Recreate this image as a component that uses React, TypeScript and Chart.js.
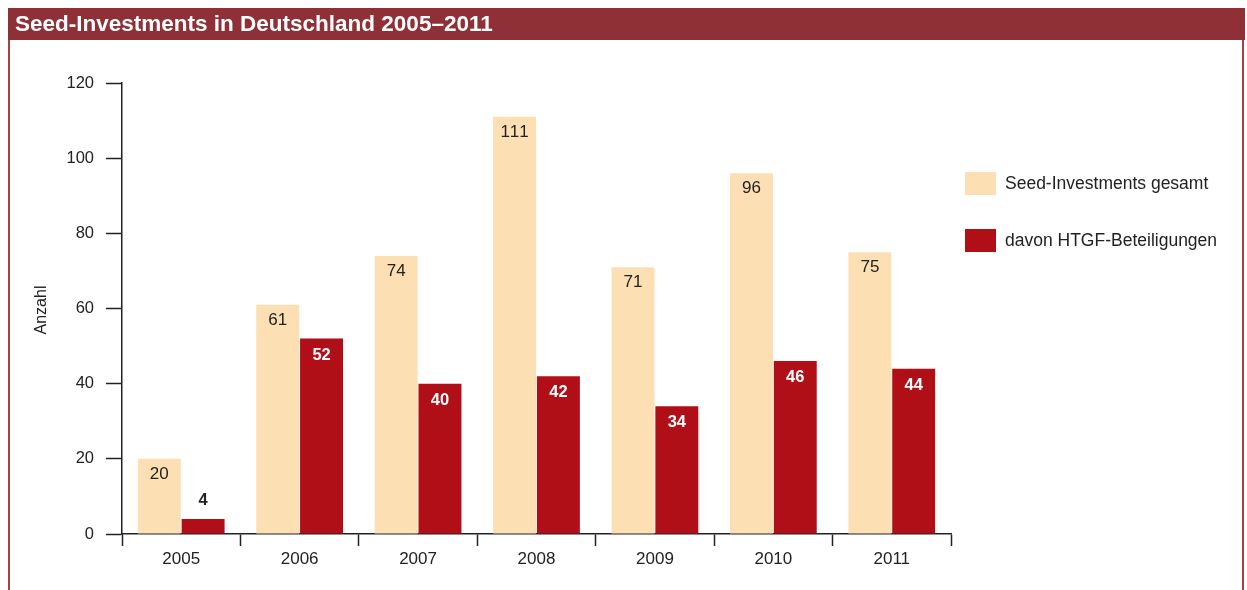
import React, { useEffect, useRef } from "react";
import { Chart, registerables } from "chart.js";

Chart.register(...registerables);

const years = ["2005", "2006", "2007", "2008", "2009", "2010", "2011"];
const seedTotal = [20, 61, 74, 111, 71, 96, 75];
const htgf = [4, 52, 40, 42, 34, 46, 44];
const seriesNames = ["Seed-Investments gesamt", "davon HTGF-Beteiligungen"];
const chartTitle = "Seed-Investments in Deutschland 2005–2011";
const yTitle = "Anzahl";

const BEIGE = "#fddfb4";
const RED = "#b00f18";
const FRAME = "#8f3036";
const FONT = "'Liberation Sans', Arial, Helvetica, sans-serif";

const decorPlugin = {
  id: "decor",
  beforeDraw(chart: any) {
    const ctx = chart.ctx;
    ctx.save();
    ctx.fillStyle = "#ffffff";
    ctx.fillRect(0, 0, chart.width, chart.height);
    // title bar
    ctx.fillStyle = FRAME;
    ctx.fillRect(8, 8, 1237, 32);
    ctx.fillStyle = "#ffffff";
    ctx.font = `bold 22.5px ${FONT}`;
    ctx.textBaseline = "middle";
    ctx.textAlign = "left";
    ctx.fillText(chartTitle, 15, 24.5);
    // side borders
    ctx.fillStyle = "#a4424a";
    ctx.fillRect(8, 40, 2, chart.height - 40);
    ctx.fillRect(1242, 40, 2, chart.height - 40);
    // y axis title
    ctx.fillStyle = "#222222";
    ctx.font = `16px ${FONT}`;
    ctx.translate(42, 310);
    ctx.rotate(-Math.PI / 2);
    ctx.textAlign = "center";
    ctx.textBaseline = "middle";
    ctx.fillText(yTitle, 0, 0);
    ctx.restore();
  },
  afterDraw(chart: any) {
    const ctx = chart.ctx;
    ctx.save();
    // legend
    const colors = [BEIGE, RED];
    const ys = [172, 229];
    ctx.font = `17.5px ${FONT}`;
    ctx.textBaseline = "middle";
    ctx.textAlign = "left";
    for (let i = 0; i < 2; i++) {
      ctx.fillStyle = colors[i];
      ctx.fillRect(965, ys[i], 31, 23);
      ctx.fillStyle = "#222222";
      ctx.fillText(seriesNames[i], 1005, ys[i] + 12);
    }
    // value labels
    try {
      (ctx as any).fontKerning = "none";
    } catch (e) {}
    chart.data.datasets.forEach((ds: any, di: number) => {
      const meta = chart.getDatasetMeta(di);
      meta.data.forEach((bar: any, i: number) => {
        const v = ds.data[i];
        const h = bar.base - bar.y;
        ctx.textAlign = "center";
        ctx.textBaseline = "middle";
        if (di === 0) {
          ctx.font = `17px ${FONT}`;
          ctx.fillStyle = "#222222";
          ctx.fillText(String(v), bar.x, bar.y + 15.5);
        } else {
          ctx.font = `bold 16.5px ${FONT}`;
          if (h < 28) {
            ctx.fillStyle = "#222222";
            ctx.fillText(String(v), bar.x, bar.y - 19);
          } else {
            ctx.fillStyle = "#ffffff";
            ctx.fillText(String(v), bar.x, bar.y + 16.5);
          }
        }
      });
    });
    ctx.restore();
  },
};

export default function App() {
  const ref = useRef<HTMLCanvasElement | null>(null);
  useEffect(() => {
    if (!ref.current) return;
    const chart = new Chart(ref.current, {
      type: "bar",
      data: {
        labels: years,
        datasets: [
          {
            label: seriesNames[0],
            data: seedTotal,
            backgroundColor: BEIGE,
            borderWidth: 0,
            categoryPercentage: 0.74,
            barPercentage: 0.98,
          },
          {
            label: seriesNames[1],
            data: htgf,
            backgroundColor: RED,
            borderWidth: 0,
            categoryPercentage: 0.74,
            barPercentage: 0.98,
          },
        ],
      },
      options: {
        responsive: false,
        animation: false,
        layout: { padding: { top: 83, right: 296, bottom: 0, left: 0 } },
        plugins: {
          legend: { display: false },
          tooltip: { enabled: false },
          title: { display: false },
        },
        scales: {
          x: {
            offset: true,
            grid: {
              offset: true,
              drawOnChartArea: false,
              drawTicks: true,
              tickLength: 12,
              tickWidth: 1.5,
              tickColor: "#222222",
            },
            border: { display: true, color: "#222222", width: 1.5 },
            ticks: {
              color: "#222222",
              font: { family: FONT, size: 17 },
              padding: 3,
            },
            afterFit(scale: any) {
              scale.height = 56;
            },
          },
          y: {
            min: 0,
            max: 120,
            grid: {
              drawOnChartArea: false,
              drawTicks: true,
              tickLength: 16,
              tickWidth: 1.5,
              tickColor: "#222222",
            },
            border: { display: true, color: "#222222", width: 1.5 },
            ticks: {
              stepSize: 20,
              color: "#222222",
              font: { family: FONT, size: 16.5 },
              padding: 12,
            },
            afterFit(scale: any) {
              scale.width = 122;
            },
          },
        },
      },
      plugins: [decorPlugin],
    });
    return () => chart.destroy();
  }, []);
  return (
    <div style={{ position: "absolute", left: 0, top: 0, width: 1247, height: 590, background: "#fff" }}>
      <canvas ref={ref} width={1247} height={590} style={{ display: "block" }} />
    </div>
  );
}
